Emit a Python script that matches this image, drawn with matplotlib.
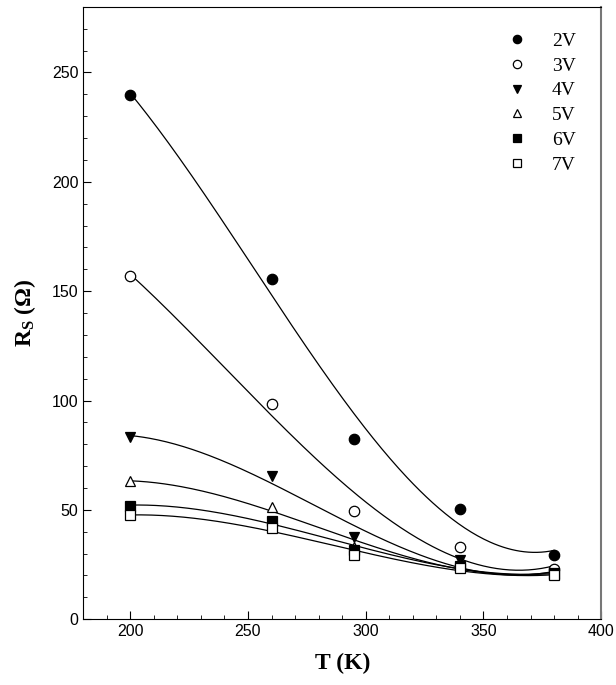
import numpy as np
import matplotlib
matplotlib.use('Agg')
import matplotlib.pyplot as plt
from matplotlib.ticker import MultipleLocator

plt.rcParams['mathtext.fontset'] = 'custom'
plt.rcParams['mathtext.rm'] = 'Liberation Serif'
plt.rcParams['mathtext.bf'] = 'Liberation Serif:bold'

T = [200, 260, 295, 340, 380]
rs_2v = [239.5, 155.5, 82.5, 50.5, 29.5]
rs_3v = [157, 98.5, 49.5, 33, 23]
rs_4v = [83.5, 65.5, 37.5, 27, 21]
rs_5v = [63, 51.5, 33, 25, 21]
rs_6v = [52, 45, 31.5, 24.5, 20.5]
rs_7v = [47.5, 41.5, 29.5, 23.5, 20]

labels = ['2V', '3V', '4V', '5V', '6V', '7V']
series = [rs_2v, rs_3v, rs_4v, rs_5v, rs_6v, rs_7v]
markers = ['o', 'o', 'v', '^', 's', 's']
filled = [True, False, True, False, True, False]

fig = plt.figure(figsize=(6.16, 6.85), dpi=100)
ax = fig.add_axes([0.135, 0.096, 0.841, 0.894])

for lab, ys, m, f in zip(labels, series, markers, filled):
    # cubic fit curve through the points
    coef = np.polyfit(T, ys, 3)
    xs = np.linspace(T[0], T[-1], 200)
    ax.plot(xs, np.polyval(coef, xs), color='black', lw=0.9)
    ax.plot(T, ys, linestyle='none', marker=m, markersize=7.5 if m == 'o' else 7,
            markerfacecolor='black' if f else 'white', markeredgecolor='black',
            markeredgewidth=0.9, label=lab)

ax.set_xlim(180, 400)
ax.set_ylim(0, 280)
ax.xaxis.set_major_locator(MultipleLocator(50))
ax.xaxis.set_minor_locator(MultipleLocator(10))
ax.yaxis.set_major_locator(MultipleLocator(50))
ax.yaxis.set_minor_locator(MultipleLocator(10))
ax.tick_params(which='both', direction='in', top=False, right=False)
ax.tick_params(which='major', length=6)
ax.tick_params(which='minor', length=3)
for lbl in ax.get_xticklabels() + ax.get_yticklabels():
    lbl.set_fontfamily('Liberation Sans')
    lbl.set_fontsize(11.5)
ax.spines['right'].set_color('#777777')
ax.spines['right'].set_linewidth(1.5)

ax.set_xlabel('T (K)', fontfamily='Liberation Serif', fontweight='bold', fontsize=17, labelpad=10)
ax.set_ylabel(r'$\mathbf{R_S}$ (Ω)', fontfamily='Liberation Serif', fontweight='bold', fontsize=17, labelpad=10)

leg = ax.legend(loc='upper right', frameon=False, prop={'family': 'Liberation Serif', 'size': 14},
                handletextpad=0.8, labelspacing=0.37, borderaxespad=0.9, markerscale=0.8)

fig.savefig('out.png', dpi=100)
